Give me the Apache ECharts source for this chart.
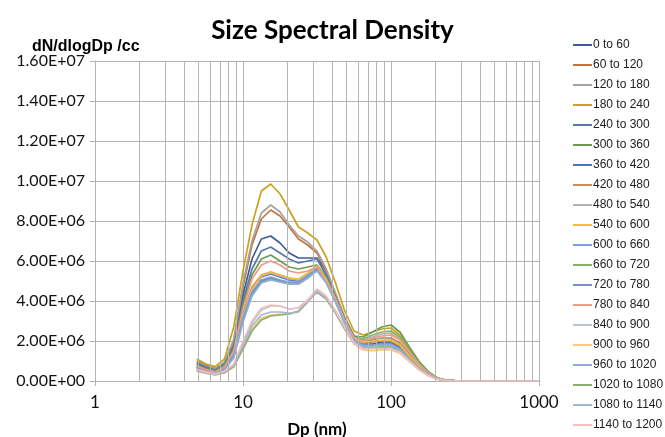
<!DOCTYPE html>
<html>
<head>
<meta charset="utf-8">
<script src="https://cdn.jsdelivr.net/npm/echarts@6/dist/echarts.min.js"></script>
<style>html,body{margin:0;padding:0;background:#fff}#c{width:665px;height:437px}</style>
</head>
<body>
<div id="c"></div>
<script>
// Particle diameter Dp (nm), log-spaced bins
const dp = [4.87,5.62,6.49,7.50,8.66,10.0,11.5,13.3,15.4,17.8,20.5,23.7,27.4,31.6,36.5,42.2,48.7,56.2,64.9,75.0,86.6,100,115,133,154,178,205,237,274,316,365,422,487,562,649,750,866,1000];
// dN/dlogDp values in units of 1e6 /cc
const s0to60     = [0.85,0.65,0.55,0.85,1.80,4.30,6.10,7.10,7.25,6.90,6.40,6.15,6.15,6.15,5.50,4.30,3.10,2.15,1.85,1.85,1.95,1.95,1.70,1.20,0.70,0.33,0.11,0.03,0.01,0,0,0,0,0,0,0,0,0];
const s60to120   = [1.00,0.80,0.62,0.90,2.00,4.70,6.80,8.10,8.55,8.25,7.70,7.10,6.80,6.40,5.50,4.30,3.15,2.25,2.00,2.05,2.15,2.15,1.90,1.35,0.80,0.38,0.13,0.03,0.01,0,0,0,0,0,0,0,0,0];
const s120to180  = [0.95,0.75,0.60,0.95,2.10,4.90,7.00,8.40,8.80,8.45,7.80,7.25,6.95,6.50,5.60,4.40,3.20,2.25,2.05,2.10,2.15,2.10,1.85,1.30,0.78,0.38,0.13,0.03,0.01,0,0,0,0,0,0,0,0,0];
const s180to240  = [1.10,0.85,0.72,1.10,2.70,5.50,7.80,9.50,9.85,9.35,8.55,7.70,7.40,7.05,6.20,4.90,3.50,2.50,2.30,2.45,2.60,2.65,2.30,1.60,0.95,0.45,0.15,0.04,0.01,0,0,0,0,0,0,0,0,0];
const s240to300  = [0.90,0.70,0.55,0.85,1.70,4.00,5.60,6.50,6.70,6.40,6.10,5.90,6.00,6.10,5.30,4.20,3.05,2.10,1.80,1.80,1.90,1.90,1.65,1.15,0.68,0.32,0.11,0.03,0.01,0,0,0,0,0,0,0,0,0];
const s300to360  = [0.80,0.62,0.50,0.80,1.60,3.80,5.30,6.10,6.30,6.00,5.70,5.60,5.70,5.80,5.20,4.20,3.10,2.25,2.20,2.45,2.70,2.80,2.45,1.70,1.00,0.48,0.16,0.04,0.01,0,0,0,0,0,0,0,0,0];
const s360to420  = [0.70,0.55,0.42,0.65,1.35,3.30,4.60,5.20,5.35,5.20,5.05,5.00,5.30,5.65,5.00,4.00,2.95,2.05,1.80,1.80,1.85,1.85,1.60,1.12,0.65,0.31,0.10,0.03,0.01,0,0,0,0,0,0,0,0,0];
const s420to480  = [0.75,0.58,0.45,0.70,1.40,3.40,4.70,5.30,5.45,5.30,5.15,5.05,5.35,5.70,5.05,4.05,3.00,2.10,1.90,1.95,2.00,2.00,1.75,1.22,0.72,0.34,0.11,0.03,0.01,0,0,0,0,0,0,0,0,0];
const s480to540  = [0.70,0.55,0.44,0.68,1.35,3.30,4.60,5.25,5.40,5.25,5.10,5.05,5.35,5.70,5.05,4.05,3.00,2.15,2.05,2.20,2.35,2.40,2.10,1.48,0.87,0.41,0.14,0.03,0.01,0,0,0,0,0,0,0,0,0];
const s540to600  = [0.65,0.50,0.40,0.62,1.30,3.20,4.55,5.25,5.45,5.30,5.15,5.10,5.40,5.75,5.10,4.10,3.00,2.10,1.95,2.00,2.05,2.05,1.80,1.25,0.73,0.35,0.12,0.03,0.01,0,0,0,0,0,0,0,0,0];
const s600to660  = [0.68,0.52,0.42,0.64,1.30,3.15,4.45,5.05,5.20,5.05,4.95,4.95,5.25,5.60,4.95,3.95,2.90,2.05,1.80,1.80,1.85,1.85,1.60,1.12,0.65,0.31,0.10,0.03,0.01,0,0,0,0,0,0,0,0,0];
const s660to720  = [0.62,0.48,0.38,0.58,1.20,3.00,4.30,4.95,5.10,4.95,4.85,4.85,5.15,5.55,4.95,4.00,2.95,2.15,2.10,2.30,2.45,2.50,2.20,1.52,0.90,0.43,0.14,0.04,0.01,0,0,0,0,0,0,0,0,0];
const s720to780  = [0.66,0.50,0.40,0.62,1.25,3.05,4.35,5.00,5.15,5.00,4.90,4.90,5.20,5.60,4.95,3.95,2.90,2.00,1.75,1.75,1.80,1.80,1.58,1.10,0.64,0.30,0.10,0.03,0.01,0,0,0,0,0,0,0,0,0];
const s780to840  = [0.75,0.55,0.45,0.70,1.50,3.60,5.10,5.80,6.00,5.80,5.50,5.40,5.50,5.70,5.00,4.10,3.00,2.15,2.00,2.15,2.25,2.30,2.05,1.45,0.85,0.40,0.13,0.03,0.01,0,0,0,0,0,0,0,0,0];
const s840to900  = [0.55,0.42,0.33,0.45,0.80,1.90,2.90,3.55,3.75,3.75,3.60,3.65,4.05,4.55,4.20,3.50,2.70,1.95,1.70,1.70,1.75,1.75,1.55,1.08,0.63,0.30,0.10,0.03,0.01,0,0,0,0,0,0,0,0,0];
const s900to960  = [0.50,0.38,0.30,0.40,0.70,1.70,2.60,3.15,3.30,3.35,3.35,3.45,3.95,4.45,4.10,3.40,2.60,1.85,1.55,1.50,1.55,1.55,1.38,0.97,0.57,0.27,0.09,0.02,0.01,0,0,0,0,0,0,0,0,0];
const s960to1020 = [0.60,0.46,0.37,0.56,1.15,2.95,4.25,4.90,5.05,4.95,4.85,4.85,5.15,5.50,4.90,3.95,2.90,2.00,1.75,1.75,1.80,1.80,1.58,1.10,0.64,0.30,0.10,0.03,0.01,0,0,0,0,0,0,0,0,0];
const s1020to1080= [0.52,0.40,0.32,0.42,0.72,1.60,2.50,3.05,3.25,3.30,3.35,3.50,4.00,4.45,4.10,3.40,2.60,1.90,1.65,1.65,1.70,1.70,1.50,1.05,0.62,0.29,0.10,0.02,0.01,0,0,0,0,0,0,0,0,0];
const s1080to1140= [0.55,0.42,0.33,0.45,0.78,1.80,2.75,3.30,3.45,3.45,3.40,3.45,3.95,4.50,4.15,3.45,2.65,1.90,1.65,1.65,1.65,1.65,1.47,1.03,0.60,0.28,0.09,0.02,0.01,0,0,0,0,0,0,0,0,0];
const s1140to1200= [0.58,0.44,0.35,0.48,0.85,2.00,3.00,3.65,3.80,3.75,3.60,3.65,4.05,4.60,4.25,3.50,2.70,1.90,1.60,1.60,1.60,1.60,1.42,1.00,0.58,0.27,0.09,0.02,0.01,0,0,0,0,0,0,0,0,0];

const seriesNames = ['0 to 60','60 to 120','120 to 180','180 to 240','240 to 300','300 to 360','360 to 420','420 to 480','480 to 540','540 to 600','600 to 660','660 to 720','720 to 780','780 to 840','840 to 900','900 to 960','960 to 1020','1020 to 1080','1080 to 1140','1140 to 1200'];
const seriesValues = [s0to60,s60to120,s120to180,s180to240,s240to300,s300to360,s360to420,s420to480,s480to540,s540to600,s600to660,s660to720,s720to780,s780to840,s840to900,s900to960,s960to1020,s1020to1080,s1080to1140,s1140to1200];
const colors = ['#3E5C9A','#C4733A','#A3A3A3','#C9A21F','#5879A8','#6E9A52','#4A6FCC','#CF8A5A','#B2B2B2','#F2BE3A','#7BA2DA','#84B266','#7890C8','#EE9A88','#BCC2CA','#F6CE6E','#8CB0DD','#8AAE74','#A6B6D6','#F2BFBF'];
const minorGrid = [2,3,4,5,6,7,8,9,20,30,40,50,60,70,80,90,200,300,400,500,600,700,800,900];
const yMax = 16, yStep = 2; // in 1e6 /cc

const chart = echarts.init(document.getElementById('c'), null, {renderer:'canvas'});
const gridColor = '#B4B4B4';
const series = seriesNames.map((n,i)=>({
  name:n, type:'line', symbol:'none', showSymbol:false, z:3,
  data: dp.map((x,j)=>[x, seriesValues[i][j]]),
  lineStyle:{width:1.7, color:colors[i]}, itemStyle:{color:colors[i]}
}));
series.unshift({
  name:'_grid', type:'line', data:[], z:1, silent:true,
  markLine:{silent:true, symbol:'none', label:{show:false},
    lineStyle:{color:gridColor, type:'solid', width:1},
    data: minorGrid.map(v=>({xAxis:v}))}
});
chart.setOption({
  animation:false,
  color:colors,
  title:[
    {text:'Size Spectral Density', left:'center', top:13, textStyle:{fontFamily:'Lato', fontWeight:'bold', fontSize:26, color:'#000'}},
    {text:'dN/dlogDp /cc', left:27, top:34, textStyle:{fontFamily:'Liberation Sans', fontWeight:'bold', fontSize:16, color:'#000'}}
  ],
  legend:{
    orient:'vertical', left:572, top:39, padding:0, itemWidth:19, itemHeight:12, itemGap:8,
    data:seriesNames,
    itemStyle:{opacity:0},
    lineStyle:{width:2},
    textStyle:{fontFamily:'Liberation Sans', fontSize:12, color:'#222', padding:[0,0,0,-4]}
  },
  grid:{left:95, right:126, top:61, bottom:56, containLabel:false, outerBoundsMode:'none'},
  xAxis:{
    type:'log', logBase:10, min:1, max:1000,
    name:'Dp (nm)', nameLocation:'middle', nameGap:40,
    nameTextStyle:{fontFamily:'Lato', fontWeight:'bold', fontSize:17, color:'#000'},
    axisLine:{lineStyle:{color:gridColor}},
    axisTick:{show:true, length:5, lineStyle:{color:gridColor}},
    axisLabel:{fontFamily:'Lato', fontSize:17, color:'#111', margin:13, formatter:v=>String(v)},
    splitLine:{show:true, lineStyle:{color:gridColor, width:1}}
  },
  yAxis:{
    type:'value', min:0, max:yMax, interval:yStep,
    axisLine:{show:true, lineStyle:{color:gridColor}},
    axisTick:{show:true, length:5, lineStyle:{color:gridColor}},
    axisLabel:{fontFamily:'Lato', fontSize:16, color:'#111', margin:10,
      formatter:v=>{ const s=(v*1e6).toExponential(2).toUpperCase(); return s.replace(/E([+-])(\d)$/,'E$10$2'); }},
    splitLine:{show:true, lineStyle:{color:gridColor, width:1}}
  },
  series:series
});
</script>
</body>
</html>
